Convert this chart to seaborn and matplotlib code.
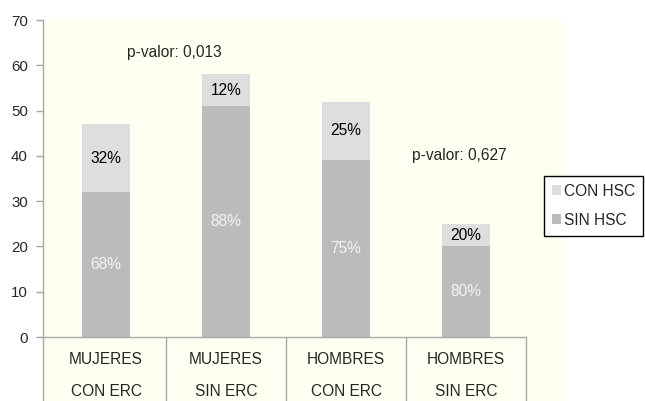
import matplotlib
matplotlib.use("Agg")
import matplotlib.pyplot as plt
from matplotlib.patches import Patch
import pandas as pd
import seaborn as sns

# ---- data ----
cat_line1 = ["MUJERES", "MUJERES", "HOMBRES", "HOMBRES"]
cat_line2 = ["CON ERC", "SIN ERC", "CON ERC", "SIN ERC"]
sin_hsc = [32, 51, 39, 20]
con_hsc = [15, 7, 13, 5]
pct_sin = ["68%", "88%", "75%", "80%"]
pct_con = ["32%", "12%", "25%", "20%"]
y_ticks = [0, 10, 20, 30, 40, 50, 60, 70]
series_names = ["CON HSC", "SIN HSC"]
pvalues = ["p-valor: 0,013", "p-valor: 0,627"]

sns.set_style("white")
plt.rcParams["font.family"] = ["Liberation Sans", "DejaVu Sans"]

light = "#DEDEDE"
dark = "#BBBBBB"
grid_col = "#A8A8A8"
fs = 11.2

cats = [f"{a} {b}" for a, b in zip(cat_line1, cat_line2)]
df = pd.DataFrame({"cat": cats,
                   "sin": sin_hsc,
                   "total": [s + c for s, c in zip(sin_hsc, con_hsc)]})

fig = plt.figure(figsize=(6.45, 4.01), dpi=100)
ax = fig.add_axes([43 / 645, 0, 520 / 645, 381 / 401])
ax.set_facecolor("#FFFFF2")

sns.barplot(data=df, x="cat", y="total", color=light, saturation=1,
            width=0.4, errorbar=None, ax=ax, linewidth=0, order=cats)
sns.barplot(data=df, x="cat", y="sin", color=dark, saturation=1,
            width=0.4, errorbar=None, ax=ax, linewidth=0, order=cats)

ybot = -14.13
ax.set_xlim(-0.525, 3.808)
ax.set_ylim(ybot, 70)
ax.set_yticks(y_ticks)
ax.set_yticklabels([str(t) for t in y_ticks], fontsize=10.8)
ax.set_xticks([])
ax.set_xlabel("")
ax.set_ylabel("")
ax.tick_params(axis="y", length=5, width=1, color=grid_col, pad=6, left=True)

for s in ["top", "right", "bottom"]:
    ax.spines[s].set_visible(False)
ax.spines["left"].set_color(grid_col)
ax.spines["left"].set_linewidth(1)

# zero line and category dividers
ax.plot([-0.525, 3.5], [0, 0], color=grid_col, lw=1, clip_on=False, zorder=3)
for xd in [0.5, 1.5, 2.5, 3.5]:
    ax.plot([xd, xd], [ybot, 0], color=grid_col, lw=1, clip_on=False, zorder=3)

for i in range(len(cats)):
    ax.text(i, -4.86, cat_line1[i], ha="center", va="center", fontsize=fs)
    ax.text(i, -12.14, cat_line2[i], ha="center", va="center", fontsize=fs)
    s = sin_hsc[i]
    c = con_hsc[i]
    ax.text(i, s / 2, pct_sin[i], ha="center", va="center", fontsize=fs,
            color="#F4F4F4")
    ax.text(i, s + c / 2, pct_con[i], ha="center", va="center", fontsize=fs,
            color="black")

ax.text(0.57, 62.9, pvalues[0], ha="center", va="center", fontsize=fs)
ax.text(2.94, 40.0, pvalues[1], ha="center", va="center", fontsize=fs)

handles = [Patch(facecolor=light, edgecolor="none"),
           Patch(facecolor=dark, edgecolor="none")]
leg = fig.legend(handles, series_names, loc="upper left",
                 bbox_to_anchor=(544 / 645, 1 - 176 / 401),
                 borderaxespad=0, frameon=True, fancybox=False,
                 edgecolor="black", facecolor="white", framealpha=1,
                 fontsize=fs, handlelength=0.6, handleheight=0.6,
                 handletextpad=0.2, labelspacing=0.9, borderpad=0.5)
leg.get_frame().set_linewidth(1)

fig.savefig("out.png", dpi=100)
